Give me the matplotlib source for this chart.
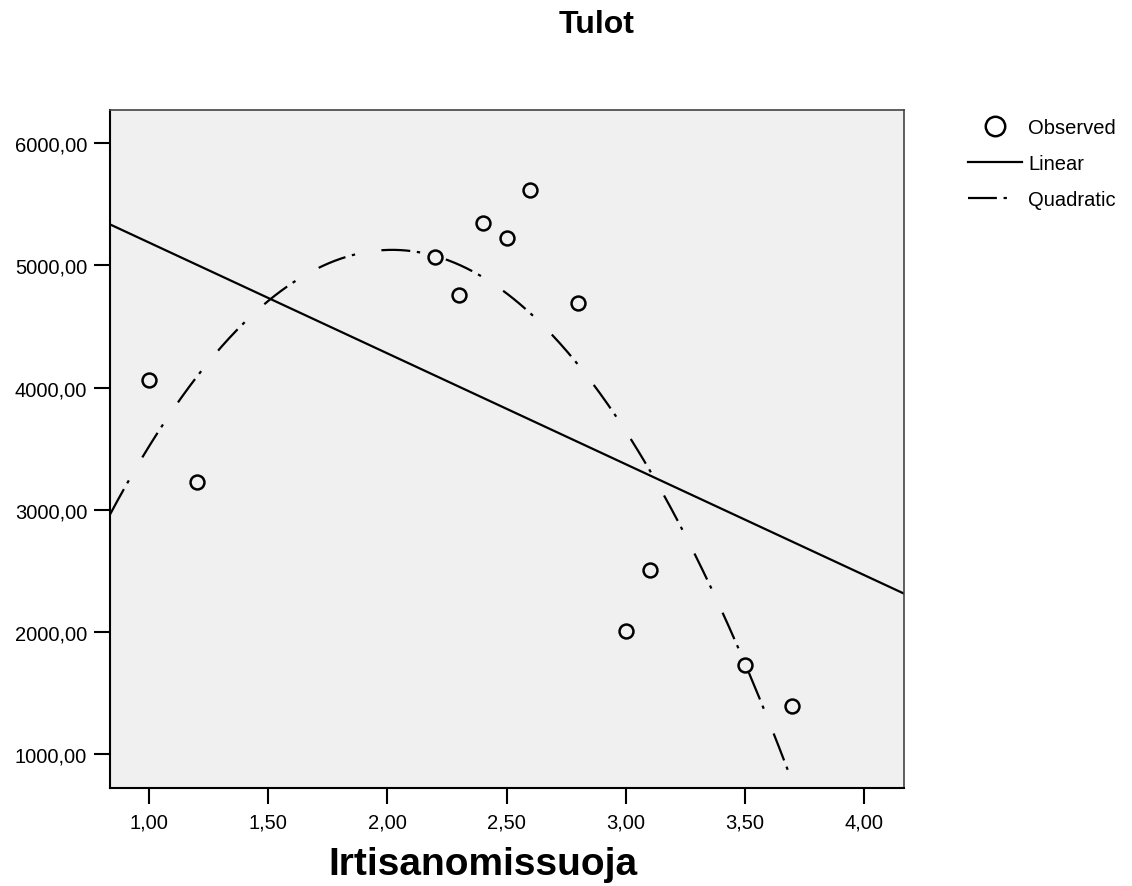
import numpy as np
import matplotlib.pyplot as plt
from matplotlib.ticker import FuncFormatter

plt.rcParams['font.family'] = ['Liberation Sans', 'DejaVu Sans']

irtisanomissuoja = [1.0, 1.2, 2.2, 2.3, 2.4, 2.5, 2.6, 2.8, 3.0, 3.1, 3.5, 3.7]
tulot = [4063, 3226, 5070, 4759, 5348, 5225, 5618, 4693, 2009, 2510, 1732, 1397]

x = np.array(irtisanomissuoja)
y = np.array(tulot)

# linear and quadratic fits like the spss curve estimation
lin = np.polyfit(x, y, 1)
quad = np.polyfit(x, y, 2)

x_min, x_max = 0.836, 4.168
xs = np.linspace(x_min, x_max, 400)

fig = plt.figure(figsize=(11.32, 8.87), dpi=100)
ax = fig.add_axes([0.0972, 0.1105, 0.7014, 0.7644])
ax.set_facecolor('#f0f0f0')

ax.plot(xs, np.polyval(lin, xs), color='black', lw=1.6, label='Linear')
ax.plot(xs, np.polyval(quad, xs), color='black', lw=1.6,
        linestyle=(0, (13, 3, 1.5, 12)), label='Quadratic')
ax.plot(x, y, 'o', ms=10, mfc='none', mec='black', mew=1.8, label='Observed')

ax.set_xlim(x_min, x_max)
ax.set_ylim(724, 6272)
ax.set_xticks([1.0, 1.5, 2.0, 2.5, 3.0, 3.5, 4.0])
ax.set_yticks([1000, 2000, 3000, 4000, 5000, 6000])
fmt = FuncFormatter(lambda v, p: ('%.2f' % v).replace('.', ','))
ax.xaxis.set_major_formatter(fmt)
ax.yaxis.set_major_formatter(fmt)
ax.tick_params(direction='out', length=11.5, width=1.5, labelsize=14.5, color='black')
ax.tick_params(axis='x', pad=6)
ax.tick_params(axis='y', pad=5)

for s in ['left', 'bottom']:
    ax.spines[s].set_linewidth(1.5)
    ax.spines[s].set_color('black')
for s in ['top', 'right']:
    ax.spines[s].set_linewidth(1.2)
    ax.spines[s].set_color('#444444')

fig.text(483 / 1132, 1 - 875 / 887, 'Irtisanomissuoja', fontsize=28,
         fontweight='bold', ha='center', va='baseline')
fig.text(597 / 1132, 1 - 25 / 887, 'Tulot', fontsize=23, fontweight='bold',
         ha='center', va='center')

h, l = ax.get_legend_handles_labels()
order = [2, 0, 1]
ax.legend([h[i] for i in order], [l[i] for i in order],
          loc='upper left', bbox_to_anchor=(968 / 1132, 1 - 119 / 887),
          bbox_transform=fig.transFigure, frameon=False, fontsize=14.5,
          borderpad=0, borderaxespad=0, handlelength=2.7, handletextpad=0.3,
          labelspacing=0.85, markerscale=1.4)

plt.savefig('out.png', dpi=100)
